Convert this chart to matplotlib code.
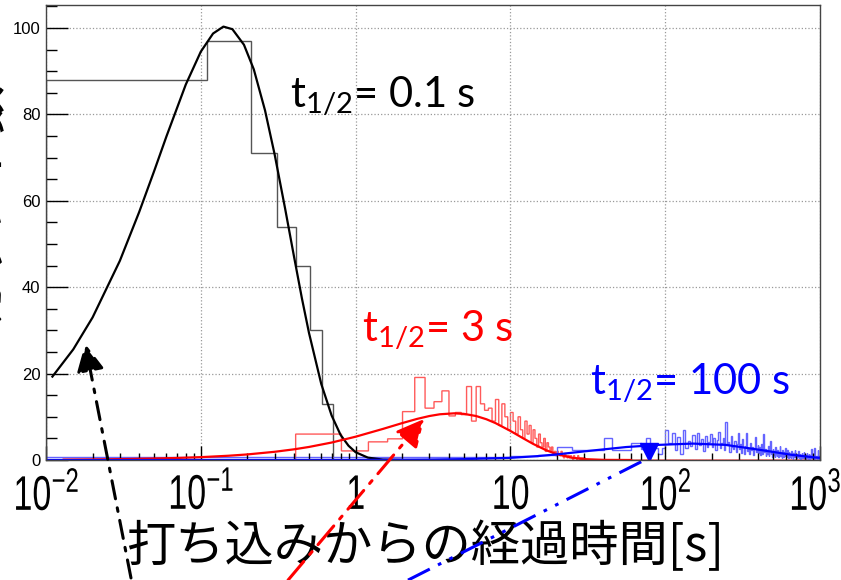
import numpy as np
import matplotlib
matplotlib.use('Agg')
import matplotlib.pyplot as plt
from matplotlib.ticker import FixedLocator, MultipleLocator, LogLocator, NullFormatter
from matplotlib.patheffects import AbstractPathEffect
from matplotlib.transforms import Affine2D

plt.rcParams['mathtext.fontset'] = 'custom'
plt.rcParams['mathtext.default'] = 'regular'

# --- histograms (counts per bin), bins start at 0.01 s ---
# t1/2 = 0.1 s, bin width 0.1 s
black_vals = [88, 97, 71, 54, 45, 30, 13] + [0] * 93
black_edges = 0.01 + 0.1 * np.arange(len(black_vals) + 1)

# t1/2 = 3 s, bin width 0.4 s
red_vals = [0, 6.0, 2.1, 4.2, 4.9, 11.2, 19.1, 12.0, 13.5, 16.0,
            10.2, 11.0, 10.5, 17.0, 9.0, 17.0, 13.0, 11.5,
            12, 9, 14, 8, 13, 10, 7, 11,
            9, 6, 10, 7, 5, 9, 6, 8, 4, 7, 5, 3,
            6, 4, 3, 5, 2, 4, 3, 2, 3, 1.5, 2, 1, 2,
            1.5, 1, 2, 1, 0.5, 1.5, 1, 0.5, 1, 0.5, 1, 0.5, 0, 1, 0.5, 0.5,
            0, 1, 0.5, 0, 0.5, 0, 0.5, 0, 0.5]
red_vals = red_vals + [0] * (2500 - len(red_vals))
red_edges = 0.01 + 0.4 * np.arange(len(red_vals) + 1)

# t1/2 = 100 s, bin width 5 s
blue_vals = [0.8, 0.8, 1.0, 1.1, 2.9, 2.2, 2.3, 2.3, 5.0, 2.3,
             2.4, 2.3, 4.0, 4.0, 2.6, 5.0, 2.4, 2.8, 1.5, 2.7,
             6.9, 4.0, 6.2, 2.3, 5.4, 1.5, 6.9, 2.7, 4.5, 3.2,
             5.8, 2.5, 6.2, 3.4, 4.8, 2.0, 5.5, 3.0, 4.2, 6.0,
             3.1, 5.0, 2.4, 4.6, 6.4, 2.8, 3.9, 5.2, 2.2, 8.9,
             3.5, 4.1, 1.8, 5.6, 3.0, 2.6, 4.4, 1.9, 3.8, 6.2,
             2.5, 3.6, 1.7, 4.9, 2.9, 1.4, 3.3, 6.3, 2.0, 2.7,
             1.5, 4.0, 2.4, 3.1, 1.2, 2.8, 5.4, 1.9, 2.2, 3.5,
             1.6, 2.9, 1.1, 3.8, 2.0, 1.4, 6.0, 1.8, 2.6, 0.9,
             2.3, 1.5, 3.2, 1.0, 2.1, 4.5, 1.3, 1.9, 0.8, 2.6,
             1.2, 2.0, 0.7, 3.0, 1.5, 1.0, 2.4, 0.6, 1.8, 1.1,
             3.3, 0.9, 1.6, 0.5, 2.2, 1.2, 0.8, 1.9, 1.0, 2.7,
             0.9, 1.4, 0.6, 2.3, 1.0, 0.4, 1.8, 0.8, 1.3, 0.5,
             2.0, 0.9, 1.1, 0.3, 1.6, 0.7, 1.2, 2.4, 0.6, 1.0,
             0.8, 1.5, 0.4, 1.1, 0.7, 2.1, 0.5, 0.9, 1.3, 0.3,
             1.0, 0.6, 1.7, 0.4, 0.8, 1.2, 0.5, 1.9, 0.7, 0.9,
             0.5, 1.1, 0.3, 0.8, 1.6, 0.4, 0.7, 1.0, 0.2, 1.4,
             0.6, 0.9, 0.3, 1.2, 0.5, 0.8, 2.5, 0.4, 0.7, 1.0,
             0.6, 0.3, 1.1, 0.5, 2.8, 0.2, 1.3, 0.4, 0.7, 0.9,
             0.3, 1.0, 0.5, 0.6, 2.2, 0.3, 0.8, 0.4, 0.9, 0.5]
blue_edges = 0.01 + 5 * np.arange(len(blue_vals) + 1)

# --- fitted curves ---
black_t = [0.011, 0.015, 0.02, 0.03, 0.04, 0.05, 0.06, 0.08, 0.10, 0.12, 0.14,
           0.16, 0.19, 0.22, 0.26, 0.30, 0.35, 0.40, 0.45, 0.50, 0.6, 0.7,
           0.8, 0.9, 1.0, 1.2, 1.5, 2.0]
black_y = [19.3, 25.6, 33.0, 46.1, 57.4, 66.9, 74.9, 86.9, 94.5, 98.7, 100.3,
           99.7, 96.1, 90.4, 80.9, 70.7, 58.3, 47.1, 37.4, 29.4, 17.6, 10.3,
           5.8, 3.3, 1.8, 0.55, 0.09, 0.0]

red_t = [0.013, 0.02, 0.03, 0.05, 0.07, 0.1, 0.15, 0.2, 0.3, 0.4, 0.5, 0.7,
         1.0, 1.5, 2.0, 2.5, 3.0, 3.5, 4.33, 5, 6, 7, 8, 10, 12, 14, 17, 20,
         25, 30, 40, 60]
red_y = [0.09, 0.14, 0.2, 0.34, 0.47, 0.66, 0.98, 1.29, 1.9, 2.47, 3.02, 4.04,
         5.39, 7.19, 8.54, 9.52, 10.18, 10.58, 10.8, 10.68, 10.18, 9.43, 8.55,
         6.73, 5.09, 3.74, 2.27, 1.34, 0.53, 0.2, 0.03, 0.0]

blue_t = [0.01, 0.1, 1, 3, 5, 10, 15, 20, 32, 56, 91, 150, 246, 400, 655, 920, 1000]
blue_y = [0.0, 0.0, 0.02, 0.1, 0.2, 0.5, 0.9, 1.3, 2.1, 3.0, 3.5, 3.8, 3.5,
          2.4, 1.2, 0.6, 0.5]

xtick_vals = [0.01, 0.1, 1, 10, 100, 1000]
xtick_labels = ['$10^{-2}$', '$10^{-1}$', '1', '10', '$10^{2}$', '$10^{3}$']


class Squeeze(AbstractPathEffect):
    """Narrow the glyphs horizontally about their centre (ROOT-like condensed font)."""
    def __init__(self, sx, dx=0):
        super().__init__()
        self.sx = sx
        self.dx = dx

    def draw_path(self, renderer, gc, tpath, affine, rgbFace=None):
        ext = tpath.get_extents()
        cx = (ext.x0 + ext.x1) / 2
        t = Affine2D().translate(-cx, 0).scale(self.sx, 1).translate(cx, 0)
        renderer.draw_path(gc, tpath, t + affine + Affine2D().translate(self.dx, 0),
                           rgbFace)


fig = plt.figure(figsize=(8.41, 5.80), dpi=100)
ax = fig.add_axes([46 / 841, 1 - 460 / 580, 774 / 841, 455 / 580])

ax.stairs(black_vals, black_edges, color='#555555', lw=1.0)
ax.stairs(red_vals, red_edges, color='#ff5a5a', lw=1.0)
ax.stairs(blue_vals, blue_edges, color='#6464ff', lw=1.0)

ax.plot(black_t, black_y, color='black', lw=1.6)
ax.plot(red_t, red_y, color='red', lw=1.6)
ax.plot(blue_t, blue_y, color='blue', lw=1.6)

ax.set_xscale('log')
ax.set_xlim(0.01, 1000)
ax.set_ylim(0, 105.3)

ax.xaxis.set_major_locator(FixedLocator(xtick_vals))
ax.set_xticklabels(xtick_labels, fontsize=35, family='Liberation Sans')
xl = ax.get_xticklabels()
for i, lab in enumerate(xl):
    lab.set_path_effects([Squeeze(0.7, dx=-5 if i == len(xl) - 1 else 0)])
ax.xaxis.set_minor_locator(LogLocator(base=10, subs=np.arange(2, 10)))
ax.xaxis.set_minor_formatter(NullFormatter())
ax.yaxis.set_major_locator(MultipleLocator(20))
ax.yaxis.set_minor_locator(MultipleLocator(5))
for lab in ax.get_yticklabels():
    lab.set_family('Liberation Sans')
    lab.set_fontsize(12)

ax.tick_params(axis='x', which='major', direction='in', length=10, width=1,
               pad=10, top=False)
ax.tick_params(axis='x', which='minor', direction='in', length=5, width=1, top=False)
ax.tick_params(axis='y', which='major', direction='in', length=16, width=1,
               pad=4, right=False)
ax.tick_params(axis='y', which='minor', direction='in', length=8, width=1, right=False)
ax.grid(True, which='major', ls=':', color='#999999', lw=0.9)
for s in ax.spines.values():
    s.set_color('#444444')
    s.set_linewidth(1.0)

# labels for each half-life
ax.text(0.377, 84.1, '$t_{1/2}$= 0.1 s', color='black', fontsize=30,
        family='Lato', va='center')
ax.text(1.1, 30.1, '$t_{1/2}$= 3 s', color='red', fontsize=30,
        family='Lato', va='center')
ax.text(32.7, 17.8, '$t_{1/2}$= 100 s', color='blue', fontsize=30,
        family='Lato', va='center')

# arrows from the axis title to the curves
ax.annotate('', xy=(0.0179, 26.9), xytext=(0.0354, -27.3),
            arrowprops=dict(arrowstyle='-|>,head_length=0.6,head_width=0.3',
                            color='black', lw=2.2, ls=(0, (6, 3, 1.2, 3)),
                            shrinkA=0, shrinkB=0, mutation_scale=28),
            annotation_clip=False)
ax.annotate('', xy=(2.77, 9.5), xytext=(0.366, -27.8),
            arrowprops=dict(arrowstyle='-|>,head_length=0.6,head_width=0.3',
                            color='red', lw=2.2, ls=(0, (8, 3, 1.2, 3)),
                            shrinkA=0, shrinkB=0, mutation_scale=28),
            annotation_clip=False)
ax.plot([2.18, 78.5], [-27.8, 0.5], color='blue', lw=2.2,
        ls=(0, (8, 3, 1.2, 3, 1.2, 3)), clip_on=False)
ax.plot([78.5], [1.9], marker='v', color='blue', ms=13)

ax.set_xlabel('打ち込みからの経過時間[s]', fontsize=35.5,
              family=['Noto Sans CJK JP', 'DejaVu Sans'])
ax.xaxis.set_label_coords(0.49, -0.135)

# y title, mostly outside the canvas as in the original
fig.text(6 / 841, 0.655, 'カウント数', rotation=90, ha='right', va='center',
         fontsize=35, family=['Noto Sans CJK JP', 'DejaVu Sans'])

fig.savefig('out.png', dpi=100)
